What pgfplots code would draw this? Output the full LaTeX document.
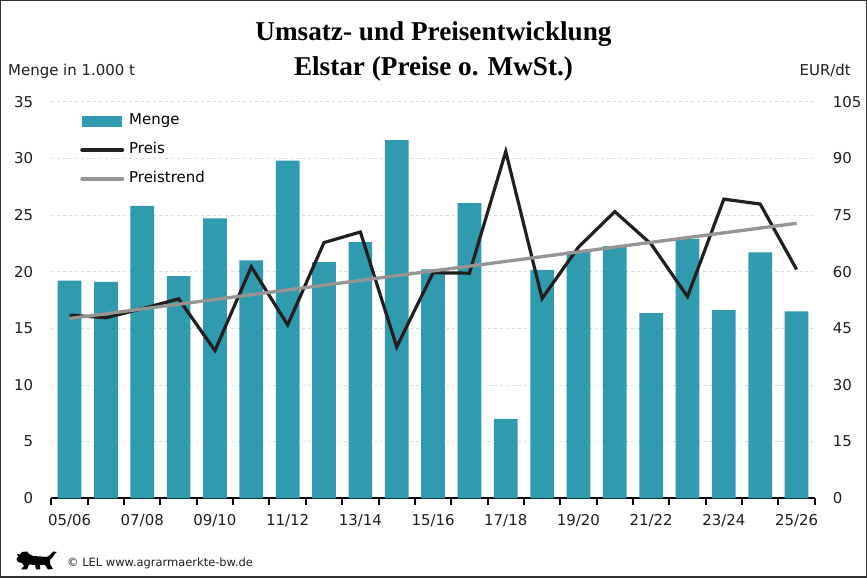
\documentclass[border=0pt]{standalone}
\usepackage{fontspec}
\setmainfont{DejaVu Sans}
\newfontfamily\titlefont{Liberation Serif}
\usepackage{pgfplots}
\pgfplotsset{compat=1.18}
\definecolor{teal1}{RGB}{48,154,174}
\definecolor{preis}{RGB}{35,31,32}
\definecolor{trend}{RGB}{150,149,148}
\definecolor{gridc}{RGB}{218,218,218}
\definecolor{frame}{RGB}{50,50,50}
\definecolor{txt}{RGB}{30,30,30}

\pgfplotstableread{
x menge preis
0 19.2 48.5
1 19.1 47.8
2 25.8 50.2
3 19.6 52.8
4 24.7 39.1
5 21.0 61.3
6 29.8 45.9
7 20.85 67.7
8 22.6 70.5
9 31.6 40.1
10 20.2 59.7
11 26.05 59.6
12 7.0 91.8
13 20.15 52.9
14 21.8 66.5
15 22.25 75.9
16 16.35 67.3
17 22.9 53.4
18 16.6 79.2
19 21.7 77.9
20 16.5 60.6
}\datatable

\begin{document}
\begin{tikzpicture}[x=1bp,y=1bp]
\useasboundingbox (0,0) rectangle (867,578);
\fill[white] (0,0) rectangle (867,578);
\draw[line width=1.5bp, frame] (0.75,0.75) rectangle (866.25,577.25);

\begin{axis}[
  at={(51.4bp,79.7bp)}, anchor=south west,
  width=763.3bp, height=396.6bp, scale only axis,
  xmin=-0.5, xmax=20.5, ymin=0, ymax=35,
  axis lines*=left,
  y axis line style={draw=none},
  x axis line style={-, line width=2bp, black},
  ytick={0,5,...,35},
  ymajorgrids,
  grid style={gridc, dashed, line width=0.6bp},
  y tick style={draw=none},
  major tick length=0pt,
  yticklabel style={font=\fontsize{15}{18}\selectfont, text=txt, inner sep=0pt, anchor=east},
  yticklabel shift=18bp,
  xtick={0,...,20},
  xticklabels={05/06,,07/08,,09/10,,11/12,,13/14,,15/16,,17/18,,19/20,,21/22,,23/24,,25/26},
  major x tick style={draw=none},
  minor xtick={-0.5,0.5,...,20.5},
  minor tick length=7bp,
  tick align=outside,
  minor x tick style={line width=2bp, black},
  xticklabel style={font=\fontsize{15}{18}\selectfont, text=txt, inner sep=0pt, anchor=north},
  xticklabel shift=16bp,
  /pgf/number format/assume math mode=true,
  legend style={at={(rel axis cs:0.0375,0.97)}, anchor=north west, draw=none, fill=none,
    font=\fontsize{15}{18}\selectfont, row sep=14.5bp, inner sep=0pt,
    nodes={text height=11bp, text depth=3.5bp, inner sep=0pt},
    /tikz/every odd column/.append style={column sep=5bp}},
  legend cell align=left,
]
\addplot[ybar, bar width=23.7bp, fill=teal1, draw=none,
  legend image code/.code={\fill[teal1] (0bp,-5.5bp) rectangle (40bp,5.5bp);}]
  table[x=x, y=menge] {\datatable};
\addlegendentry{Menge}
\addlegendimage{legend image code/.code={\draw[preis, line width=4bp, line cap=round] (0bp,0bp) -- (40bp,0bp);}}
\addlegendentry{Preis}
\addlegendimage{legend image code/.code={\draw[trend, line width=4bp, line cap=round] (0bp,0bp) -- (40bp,0bp);}}
\addlegendentry{Preistrend}
\end{axis}

\begin{axis}[
  at={(51.4bp,79.7bp)}, anchor=south west,
  width=763.3bp, height=396.6bp, scale only axis,
  xmin=-0.5, xmax=20.5, ymin=0, ymax=105,
  axis y line*=right, axis x line=none,
  y axis line style={draw=none},
  ytick={0,15,...,105},
  y tick style={draw=none},
  major tick length=0pt,
  yticklabel style={font=\fontsize{15}{18}\selectfont, text=txt, inner sep=0pt, anchor=west},
  yticklabel shift=18bp,
  /pgf/number format/assume math mode=true,
]
\addplot[preis, line width=3.2bp, mark=none] table[x=x, y=preis] {\datatable};
\addplot[trend, line width=3.3bp, mark=none] coordinates {(0,47.6) (20,72.8)};
\end{axis}

\node[anchor=base, font=\titlefont\bfseries\fontsize{27.3}{30}\selectfont, text=black] at (433.5,537.3) {Umsatz- und Preisentwicklung};
\node[anchor=base, font=\titlefont\bfseries\fontsize{27.3}{30}\selectfont, text=black] at (433.5,502.3) {Elstar (Preise o. MwSt.)};
\node[anchor=base west, inner sep=0pt, font=\fontsize{15}{18}\selectfont, text=txt] at (8,502) {Menge in 1.000 t};
\node[anchor=base east, inner sep=0pt, font=\fontsize{15}{18}\selectfont, text=txt] at (851,502) {EUR/dt};

% footer logo (stylised lion) and credit
\begin{scope}[shift={(0,578)}, yscale=-1]
\fill[black] (22,552) -- (27,551.5) -- (29,554) -- (33,556) -- (41,556.5) -- (47,557) -- (50,555) -- (53,551.5) -- (57,552) -- (55,553.5) -- (53,557) -- (50,560) -- (50,564) -- (53,569) -- (48,569.5) -- (45,565) -- (40,565) -- (40,569.5) -- (36,569.5) -- (35,565) -- (29,564.5) -- (27,569.5) -- (21,569.5) -- (24,566) -- (22,563) -- (18,562) -- (16.5,559) -- (18,556.5) -- (17,554) -- (20,554.5) -- cycle;
\end{scope}
\node[anchor=base west, inner sep=0pt, font=\fontsize{11.5}{14}\selectfont, text=txt] at (67,11) {© LEL www.agrarmaerkte-bw.de};
\end{tikzpicture}
\end{document}
